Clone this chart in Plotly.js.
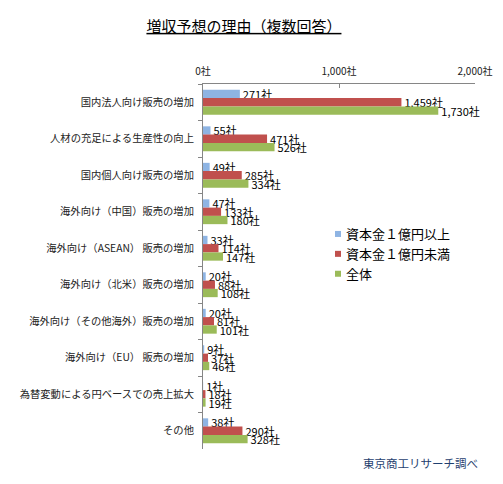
<!DOCTYPE html>
<html>
<head>
<meta charset="utf-8">
<script src="https://cdn.plot.ly/plotly-3.0.1.min.js"></script>
<style>
  html, body { margin: 0; padding: 0; background: #fff; }
  #chart { width: 503px; height: 484px; }
</style>
</head>
<body>
<div id="chart"></div>
<script>
// 増収予想の理由（複数回答）
const categories = [
  '国内法人向け販売の増加',
  '人材の充足による生産性の向上',
  '国内個人向け販売の増加',
  '海外向け（中国）販売の増加',
  '海外向け（ASEAN） 販売の増加',
  '海外向け（北米）販売の増加',
  '海外向け（その他海外）販売の増加',
  '海外向け（EU） 販売の増加',
  '為替変動による円ベースでの売上拡大',
  'その他'
];
const seriesNames = ['資本金１億円以上', '資本金１億円未満', '全体'];
const large = [271, 55, 49, 47, 33, 20, 20, 9, 1, 38];
const small = [1459, 471, 285, 133, 114, 88, 81, 37, 18, 290];
const total = [1730, 526, 334, 180, 147, 108, 101, 46, 19, 328];
const colors = ['#8EB4E3', '#C0504D', '#9BBB59'];

const JP = '"Noto Sans CJK JP", "Noto Sans", sans-serif';

const traces = [large, small, total].map((vals, i) => ({
  type: 'bar',
  orientation: 'h',
  name: seriesNames[i],
  y: categories,
  x: vals,
  marker: { color: colors[i] },
  texttemplate: '%{x:,}社',
  textposition: 'outside',
  constraintext: 'none',
  textfont: { family: JP, size: 11, color: '#000' },
  cliponaxis: false,
  hoverinfo: 'none'
}));

const gd = document.getElementById('chart');
Plotly.newPlot(gd, traces, {
  width: 503,
  height: 484,
  margin: { t: 84, l: 203, r: 28, b: 35 },
  paper_bgcolor: '#fff',
  plot_bgcolor: '#fff',
  barmode: 'group',
  bargap: 0.32,
  bargroupgap: 0,
  title: {
    text: '<u>増収予想の理由（複数回答）</u>',
    font: { family: JP, size: 15, color: '#000' },
    x: 0.485, xref: 'container', xanchor: 'center',
    y: 0.945, yref: 'container', yanchor: 'middle'
  },
  xaxis: {
    side: 'top',
    range: [0, 2000],
    dtick: 1000,
    tickformat: ',',
    ticksuffix: '社',
    showgrid: false,
    zeroline: false,
    showline: true,
    linecolor: '#868686',
    ticks: 'inside',
    ticklen: 4,
    tickcolor: '#868686',
    ticklabelstandoff: 4,
    tickfont: { family: JP, size: 10, color: '#222' }
  },
  yaxis: {
    autorange: 'reversed',
    showgrid: false,
    zeroline: false,
    showline: true,
    linecolor: '#868686',
    ticks: 'outside',
    tickson: 'boundaries',
    ticklen: 4,
    tickcolor: '#868686',
    ticklabelstandoff: 6,
    tickfont: { family: JP, size: 10.3, color: '#222' }
  },
  legend: {
    x: (306 - 203) / 272, y: 1 - (219 - 84) / 365,
    xanchor: 'left', yanchor: 'top',
    traceorder: 'normal',
    font: { family: JP, size: 13, color: '#000' },
    itemwidth: 30
  },
  annotations: [{
    text: '東京商工リサーチ調べ',
    xref: 'paper', yref: 'paper',
    x: 1.02, y: -0.038, xanchor: 'right', yanchor: 'middle',
    showarrow: false,
    font: { family: JP, size: 11.5, color: '#1F3F6F' }
  }],
  showlegend: true
}, { displayModeBar: false, staticPlot: true }).then(() => {
  // smaller legend swatches, set just left of the text as in the original
  gd.querySelectorAll('.legendpoints path').forEach(p => {
    p.setAttribute('d', 'M3,3H-3V-3H3Z');
    p.setAttribute('transform', 'translate(32,0)');
  });
});
</script>
</body>
</html>
